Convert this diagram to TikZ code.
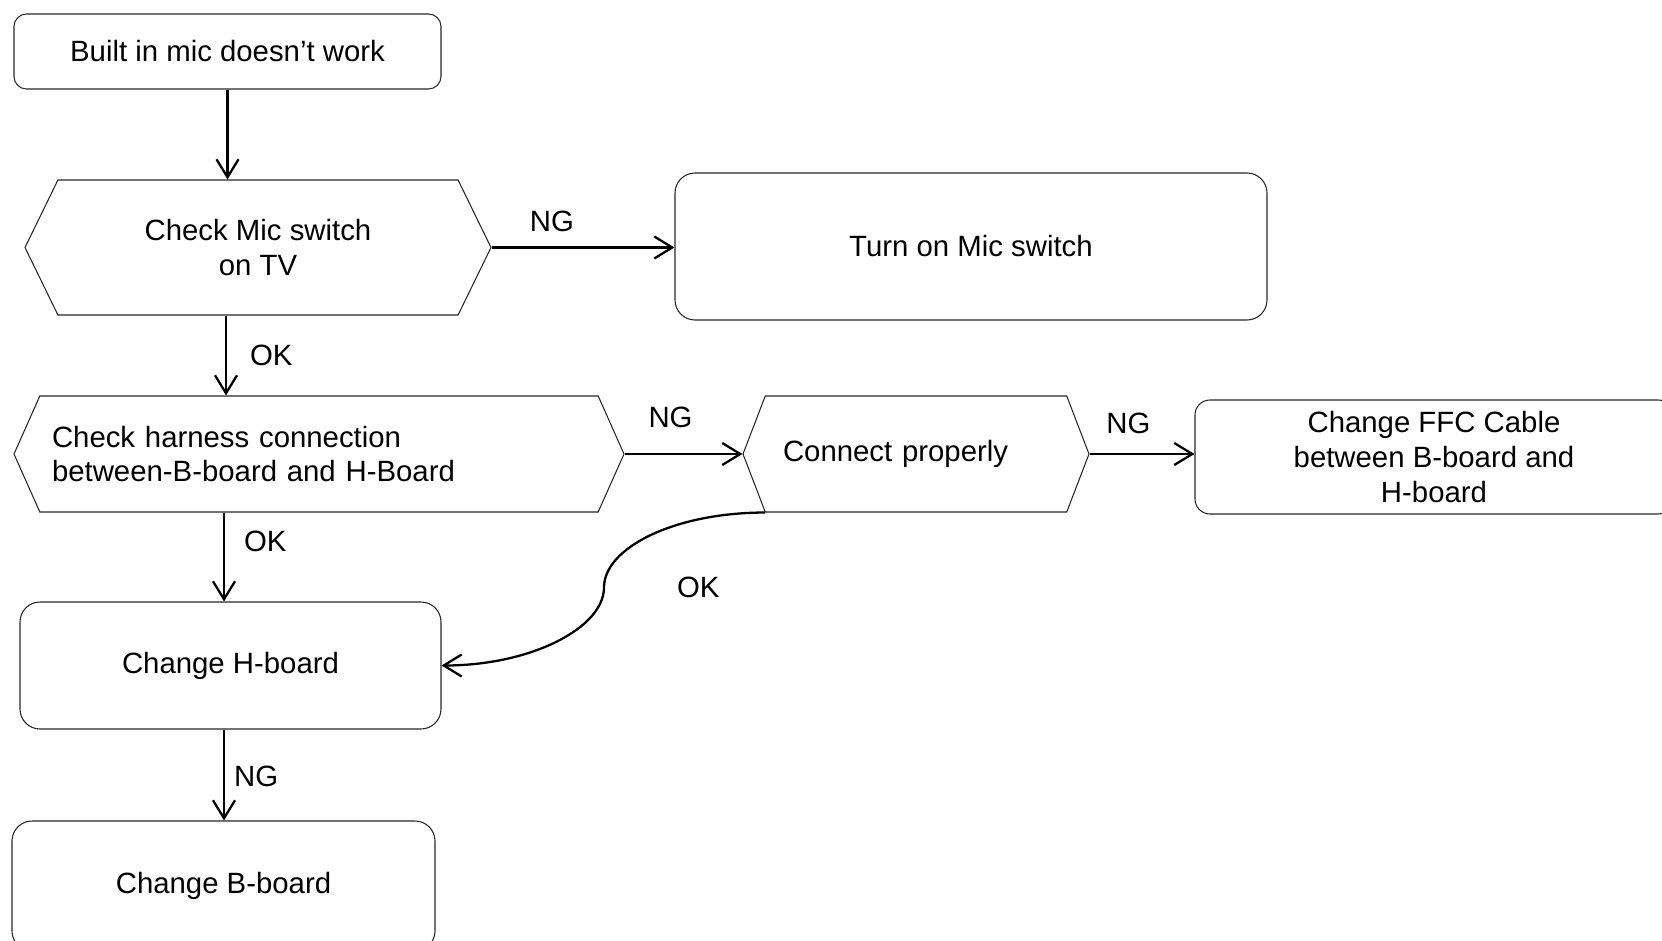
\documentclass[tikz,border=0pt]{standalone}
\usepackage{fontspec}
\setmainfont{Liberation Sans}
\usetikzlibrary{shapes.symbols, arrows.meta, positioning, calc}

\begin{document}
\begin{tikzpicture}[
    font=\fontsize{16.7pt}{19.9pt}\selectfont,
    action/.style={rectangle, draw=black!85, line width=0.6pt, rounded corners=#1,
                   inner sep=0pt, align=center},
    action/.default=0.4cm,
    decision/.style={signal, signal to=east and west, signal pointer angle=#1,
                     draw=black!85, line width=0.6pt, inner sep=0pt},
    decision/.default=130,
    arrow/.style={-{Straight Barb[length=3.6mm, width=4.4mm]}, line width=1.3pt},
    lbl/.style={inner sep=0pt}
]
\useasboundingbox (0,0) rectangle (33.24,-18.82);

\node[action=0.25cm, minimum width=8.54cm, minimum height=1.5cm] (start) at (4.55,-1.03) {Built in mic doesn’t work};
\node[decision=128, minimum width=9.32cm, minimum height=2.7cm, align=center] (chk1) at (5.16,-4.95) {Check Mic switch\\on TV};
\node[action, minimum width=11.84cm, minimum height=2.94cm] (turnon) at (19.42,-4.93) {Turn on Mic switch};
\node[decision=132, minimum width=12.2cm, minimum height=2.32cm, text width=10.68cm, align=left] (chk2) at (6.38,-9.08) {Check harness connection\\between-B-board and H-Board};
\node[decision=138, minimum width=6.92cm, minimum height=2.32cm, text width=5.32cm, align=left] (conn) at (18.32,-9.08) {Connect properly};
\node[action=0.3cm, minimum width=9.56cm, minimum height=2.28cm] (ffc) at (28.68,-9.14) {Change FFC Cable\\between B-board and\\H-board};
\node[action, minimum width=8.42cm, minimum height=2.54cm] (hboard) at (4.61,-13.31) {Change H-board};
\node[action, minimum width=8.46cm, minimum height=2.6cm] (bboard) at (4.47,-17.72) {Change B-board};

% main line
\draw[arrow] (start.south) -- (start.south |- chk1.north);
\draw[arrow] ([xshift=-0.64cm]chk1.south) -- ([xshift=-0.64cm]chk1.south |- chk2.north)
    node[lbl, midway, right=0.46cm] {OK};
\draw[arrow] ([xshift=-1.9cm]chk2.south) -- ([xshift=-1.9cm]chk2.south |- hboard.north)
    node[lbl, pos=0.32, right=0.38cm] {OK};
\draw[arrow] ([xshift=-0.13cm]hboard.south) -- ([xshift=-0.13cm]hboard.south |- bboard.north)
    node[lbl, pos=0.52, right=0.18cm] {NG};

% NG branches
\draw[arrow] (chk1.east) -- (chk1.east -| turnon.west)
    node[lbl, pos=0.33, above=0.3cm] {NG};
\draw[arrow] (chk2.east) -- (conn.west)
    node[lbl, pos=0.39, above=0.51cm] {NG};
\draw[arrow] (conn.east) -- (conn.east -| ffc.west)
    node[lbl, pos=0.37, above=0.39cm] {NG};

% back to H-board
\coordinate (bend) at ($(conn.south)+(-6.24,-1.5)$);
\draw[arrow] ([xshift=-3.02cm]conn.south) .. controls +(-1.8,0) and +(0,0.8) .. (bend)
    node[lbl, pos=1, right=1.44cm] {OK}
    .. controls +(0,-0.8) and +(1.8,0) .. (hboard.east);
\end{tikzpicture}
\end{document}
